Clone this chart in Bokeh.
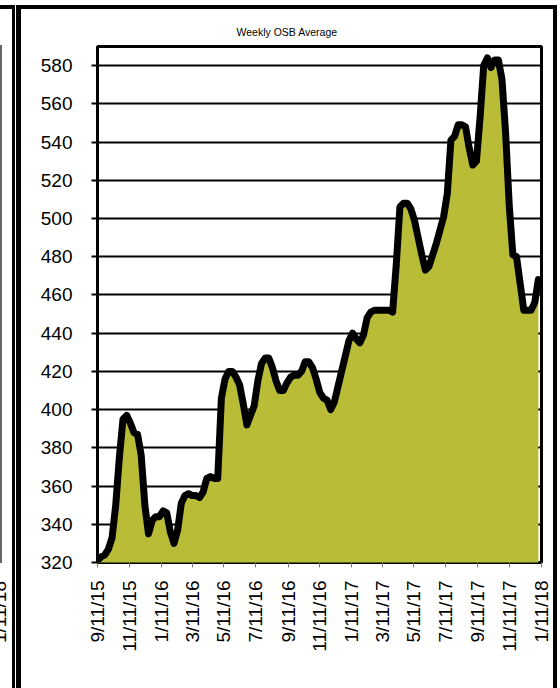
import pandas as pd
from math import pi
from bokeh.plotting import figure
from bokeh.layouts import row, column
from bokeh.models import FixedTicker, Range1d, Div, Spacer
from bokeh.embed import file_html
from bokeh.resources import INLINE

title_text = "Weekly OSB Average"
start_date = "2015-09-11"
osb_values = [
    321, 323, 324, 327, 333, 350, 375, 395, 397, 393,
    388, 387, 376, 350, 335, 342, 344, 344, 347, 346,
    336, 330, 337, 351, 355, 356, 355, 355, 354, 357,
    364, 365, 364, 364, 406, 416, 420, 420, 417, 413,
    403, 392, 397, 402, 415, 424, 427, 427, 422, 415,
    410, 410, 414, 417, 418, 418, 420, 425, 425, 422,
    416, 409, 406, 405, 400, 404, 412, 420, 428, 436,
    440, 437, 435, 439, 448, 451, 452, 452, 452, 452,
    452, 451, 476, 506, 508, 508, 505, 499, 490, 481,
    473, 475, 481, 487, 494, 501, 513, 541, 543, 549,
    549, 548, 537, 528, 530, 553, 580, 584, 579, 583,
    583, 573, 545, 507, 481, 480, 466, 452, 452, 452,
    456, 468,
]
dates = pd.date_range(start_date, periods=len(osb_values), freq="7D")
x_tick_labels = ["9/11/15", "11/11/15", "1/11/16", "3/11/16", "5/11/16",
                 "7/11/16", "9/11/16", "11/11/16", "1/11/17", "3/11/17",
                 "5/11/17", "7/11/17", "9/11/17", "11/11/17", "1/11/18"]
y_ticks = [320, 340, 360, 380, 400, 420, 440, 460, 480, 500, 520, 540, 560, 580]
y_min, y_max = 320, 590
left_panel_last_label = "1/11/18"

tick_dates = pd.to_datetime(x_tick_labels, format="%m/%d/%y")
tick_ms = [float(d.value // 10**6) for d in tick_dates]

FONT = "Liberation Sans"
FILL = "#B9BC37"

p = figure(width=532, height=679, x_axis_type="datetime",
           x_range=Range1d(tick_ms[0], tick_ms[-1]),
           y_range=Range1d(y_min, y_max),
           output_backend="svg", toolbar_location=None,
           min_border_left=76, min_border_right=12,
           min_border_top=37, min_border_bottom=126,
           background_fill_color="white", border_fill_color="white",
           outline_line_color="black", outline_line_width=3)
p.margin = 0

p.title.text = title_text
p.title.align = "left"
p.title.offset = 139
p.title.standoff = 18
p.title.text_font = FONT
p.title.text_font_size = "10.5px"
p.title.text_font_style = "normal"
p.title.text_color = "black"

p.varea(x=dates, y1=y_min - 20, y2=osb_values, fill_color=FILL)
p.line(dates, osb_values, line_color="black", line_width=7,
       line_join="round", line_cap="round")

# x axis
xa = p.xaxis[0]
xa.ticker = FixedTicker(ticks=tick_ms)
xa.major_label_overrides = {t: l for t, l in zip(tick_ms, x_tick_labels)}
xa.major_label_orientation = pi / 2
xa.major_label_text_font = FONT
xa.major_label_text_font_size = "19px"
xa.major_label_text_color = "black"
xa.major_label_standoff = 13
xa.major_tick_out = 5
xa.major_tick_in = 0
xa.major_tick_line_color = "#777777"
xa.major_tick_line_width = 1
xa.minor_tick_line_color = None
xa.axis_line_color = None

# y axis
ya = p.yaxis[0]
ya.ticker = FixedTicker(ticks=y_ticks)
ya.major_label_text_font = FONT
ya.major_label_text_font_size = "19px"
ya.major_label_text_color = "black"
ya.major_label_standoff = 19
ya.major_tick_out = 6
ya.major_tick_in = 0
ya.major_tick_line_color = "black"
ya.major_tick_line_width = 2
ya.minor_tick_line_color = None
ya.axis_line_color = None

p.xgrid.visible = False
p.ygrid.grid_line_color = "black"
p.ygrid.grid_line_width = 2

# neighbouring panel, only its right edge is visible
sliver_html = (
    '<div style="position:relative;width:16px;height:688px;overflow:hidden;">'
    '<div style="position:absolute;left:0;top:5px;width:15px;height:4px;background:black;"></div>'
    '<div style="position:absolute;left:12px;top:5px;width:3px;height:683px;background:black;"></div>'
    '<div style="position:absolute;left:0;top:45px;width:2px;height:518px;background:#666666;"></div>'
    '<div style="position:absolute;right:16px;top:571px;height:20px;line-height:20px;'
    'white-space:nowrap;font-family:\'Liberation Sans\';font-size:19px;color:black;'
    'transform-origin:100% 50%;transform:rotate(-90deg);">'
    + left_panel_last_label + '</div></div>'
)
sliver = Div(text=sliver_html, width=16, height=688, margin=0)


def bar(w, h):
    return Div(text="", width=w, height=h, margin=0,
               styles={"background-color": "black"})


main = column(
    Spacer(width=541, height=5, margin=0),
    bar(541, 4),
    row(bar(5, 679), p, bar(4, 679), spacing=0, margin=0),
    spacing=0, margin=0,
)
layout = row(sliver, main, spacing=0, margin=0)

open("out.html", "w").write(file_html(layout, INLINE))
